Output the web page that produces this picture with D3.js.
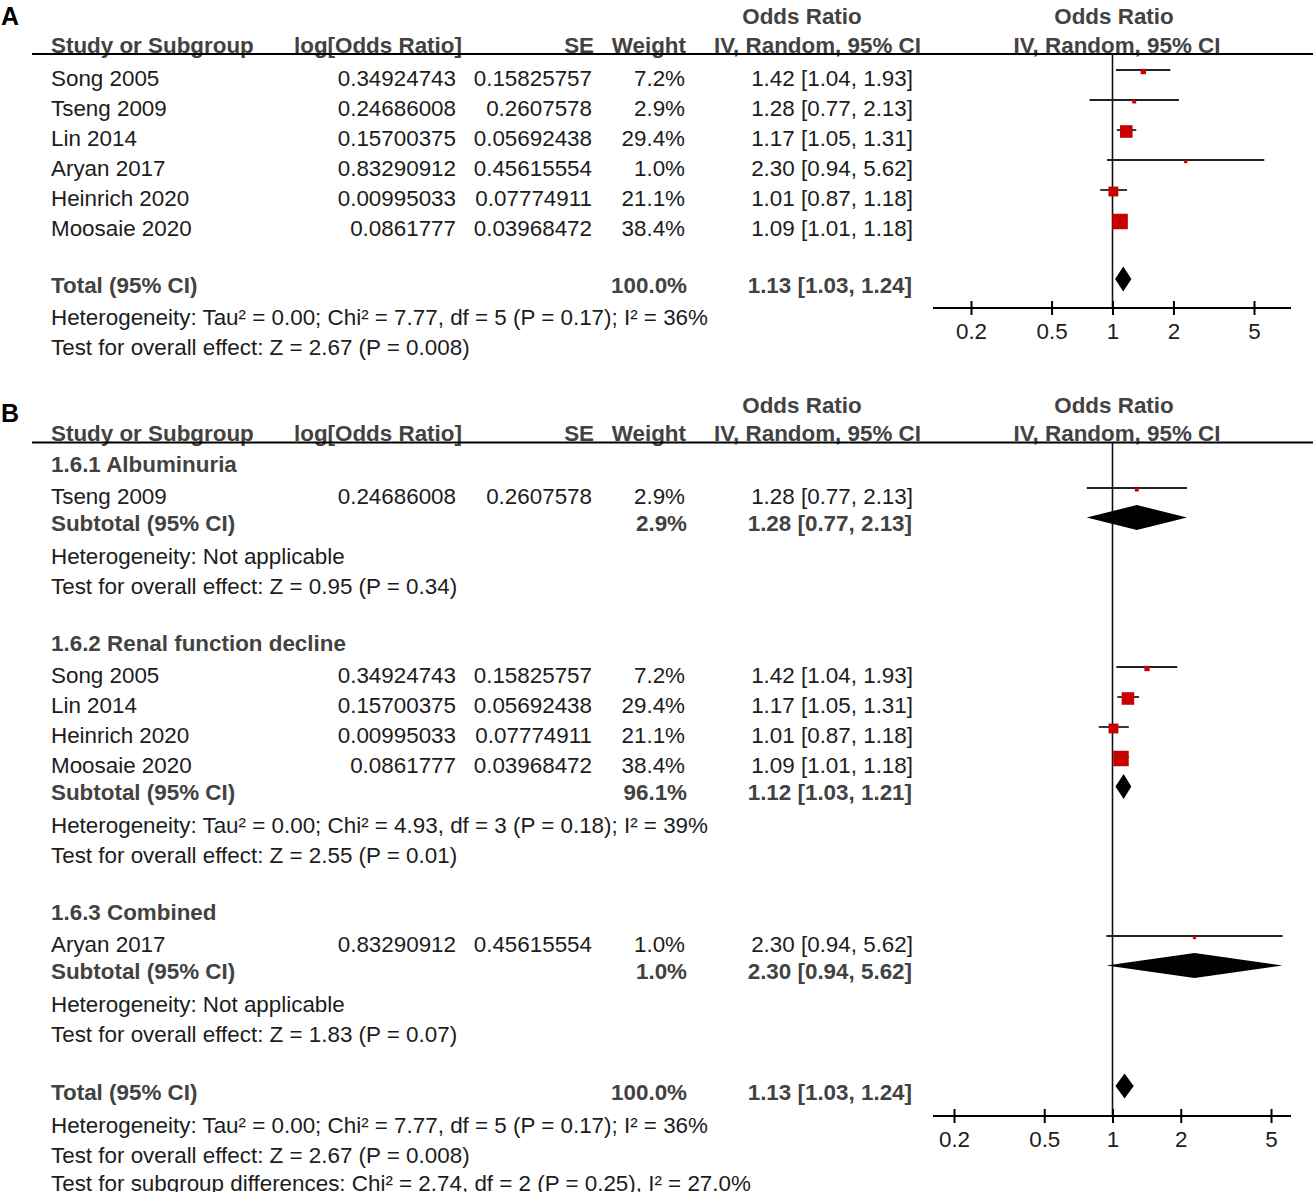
<!DOCTYPE html>
<html>
<head>
<meta charset="utf-8">
<script src="https://cdn.jsdelivr.net/npm/d3@7"></script>
<style>
  body { margin: 0; background: #fff; }
  text { font-family: "Liberation Sans", Arial, sans-serif; font-size: 22.4px; }
</style>
</head>
<body>
<svg width="1313" height="1192"></svg>
<script>
// study level data
const studies = ["Song 2005", "Tseng 2009", "Lin 2014", "Aryan 2017", "Heinrich 2020", "Moosaie 2020"];
const logOR = ["0.34924743", "0.24686008", "0.15700375", "0.83290912", "0.00995033", "0.0861777"];
const seVals = ["0.15825757", "0.2607578", "0.05692438", "0.45615554", "0.07774911", "0.03968472"];
const weights = [7.2, 2.9, 29.4, 1.0, 21.1, 38.4];
const ors = [1.42, 1.28, 1.17, 2.30, 1.01, 1.09];
const lowers = [1.04, 0.77, 1.05, 0.94, 0.87, 1.01];
const uppers = [1.93, 2.13, 1.31, 5.62, 1.18, 1.18];

// subgroups (panel B)
const subgroupNames = ["1.6.1 Albuminuria", "1.6.2 Renal function decline", "1.6.3 Combined"];
const subgroupMembers = [[1], [0, 2, 4, 5], [3]];
const subWeights = [2.9, 96.1, 1.0];
const subOrs = [1.28, 1.12, 2.30];
const subLowers = [0.77, 1.03, 0.94];
const subUppers = [2.13, 1.21, 5.62];
const subHet = [
  "Heterogeneity: Not applicable",
  "Heterogeneity: Tau² = 0.00; Chi² = 4.93, df = 3 (P = 0.18); I² = 39%",
  "Heterogeneity: Not applicable"
];
const subTest = [
  "Test for overall effect: Z = 0.95 (P = 0.34)",
  "Test for overall effect: Z = 2.55 (P = 0.01)",
  "Test for overall effect: Z = 1.83 (P = 0.07)"
];

// overall
const totalWeight = 100.0;
const totalOr = 1.13, totalLower = 1.03, totalUpper = 1.24;
const totalHet = "Heterogeneity: Tau² = 0.00; Chi² = 7.77, df = 5 (P = 0.17); I² = 36%";
const totalTest = "Test for overall effect: Z = 2.67 (P = 0.008)";
const subgroupDiff = "Test for subgroup differences: Chi² = 2.74, df = 2 (P = 0.25), I² = 27.0%";

const tickValues = [0.2, 0.5, 1, 2, 5];
const tickLabels = ["0.2", "0.5", "1", "2", "5"];
const headers = ["Study or Subgroup", "log[Odds Ratio]", "SE", "Weight", "IV, Random, 95% CI", "IV, Random, 95% CI"];

const TEXT = "#1c1c1c";
const BOLD = "#424242";
const RED = "#c80000";
const COL = { name: 51, logor: 456, se: 592, weight: 686, ci: 912 };
const PLOT = { left: 933, right: 1291 };

const svg = d3.select("svg");
const boxSize = d3.scaleLinear().domain([0, 40]).range([3, 16]);

function ciText(o, l, u) {
  return o.toFixed(2) + " [" + l.toFixed(2) + ", " + u.toFixed(2) + "]";
}

function txt(x, y, s, opt) {
  opt = opt || {};
  return svg.append("text")
    .attr("x", x)
    .attr("y", y + 7.5)
    .attr("text-anchor", opt.anchor || "start")
    .attr("font-weight", opt.bold ? "bold" : "normal")
    .attr("fill", opt.bold ? BOLD : TEXT)
    .text(s);
}

function diamond(x, y, o, l, u) {
  const h = 12.5;
  svg.append("path")
    .attr("d", "M" + x(l) + "," + y + "L" + x(o) + "," + (y - h) + "L" + x(u) + "," + y + "L" + x(o) + "," + (y + h) + "Z")
    .attr("fill", "#000");
}

function drawPanel(label, labelY, headerY, x, rows, axisY) {
  svg.append("text")
    .attr("x", 1).attr("y", labelY)
    .attr("font-weight", "bold").attr("fill", "#000")
    .style("font-size", "25px")
    .text(label);

  // header
  svg.append("text").attr("x", 802).attr("y", headerY - 28.5).attr("text-anchor", "middle")
    .attr("font-weight", "bold").attr("fill", BOLD).text("Odds Ratio");
  svg.append("text").attr("x", 1114).attr("y", headerY - 28.5).attr("text-anchor", "middle")
    .attr("font-weight", "bold").attr("fill", BOLD).text("Odds Ratio");
  const hx = [[COL.name, "start"], [294, "start"], [594, "end"], [COL.weight, "end"], [714, "start"], [1117, "middle"]];
  headers.forEach((h, i) => {
    svg.append("text").attr("x", hx[i][0]).attr("y", headerY).attr("text-anchor", hx[i][1])
      .attr("font-weight", "bold").attr("fill", BOLD).text(h);
  });
  svg.append("line")
    .attr("x1", 32).attr("x2", 1313)
    .attr("y1", headerY + 1.5).attr("y2", headerY + 1.5)
    .attr("stroke", "#000").attr("stroke-width", 2);

  // line of no effect
  svg.append("line")
    .attr("x1", x(1)).attr("x2", x(1))
    .attr("y1", headerY + 1.5).attr("y2", axisY)
    .attr("stroke", "#111").attr("stroke-width", 1.6);

  rows.forEach(r => {
    if (r.type === "study") {
      const i = r.i;
      txt(COL.name, r.y, studies[i]);
      txt(COL.logor, r.y, logOR[i], { anchor: "end" });
      txt(COL.se, r.y, seVals[i], { anchor: "end" });
      txt(COL.weight - 1, r.y, weights[i].toFixed(1) + "%", { anchor: "end" });
      txt(COL.ci + 1, r.y, ciText(ors[i], lowers[i], uppers[i]), { anchor: "end" });
      svg.append("line")
        .attr("x1", x(lowers[i])).attr("x2", x(uppers[i]))
        .attr("y1", r.y - 8).attr("y2", r.y - 8)
        .attr("stroke", "#222").attr("stroke-width", 1.8);
      const s = boxSize(weights[i]);
      svg.append("rect")
        .attr("x", x(ors[i]) - s / 2).attr("y", r.y - 6.5 - s / 2)
        .attr("width", s).attr("height", s)
        .attr("fill", RED);
    } else if (r.type === "group") {
      txt(COL.name, r.y, subgroupNames[r.k], { bold: true });
    } else if (r.type === "subtotal") {
      const k = r.k;
      txt(COL.name, r.y, "Subtotal (95% CI)", { bold: true });
      txt(COL.weight + 1, r.y, subWeights[k].toFixed(1) + "%", { anchor: "end", bold: true });
      txt(COL.ci, r.y, ciText(subOrs[k], subLowers[k], subUppers[k]), { anchor: "end", bold: true });
      diamond(x, r.y - 5.5, subOrs[k], subLowers[k], subUppers[k]);
    } else if (r.type === "total") {
      txt(COL.name, r.y, "Total (95% CI)", { bold: true });
      txt(COL.weight + 1, r.y, totalWeight.toFixed(1) + "%", { anchor: "end", bold: true });
      txt(COL.ci, r.y, ciText(totalOr, totalLower, totalUpper), { anchor: "end", bold: true });
      diamond(x, r.y - 6, totalOr, totalLower, totalUpper);
    } else {
      txt(COL.name, r.y, r.text);
    }
  });

  // axis
  const axis = d3.axisBottom(x)
    .tickValues(tickValues)
    .tickFormat((d, i) => tickLabels[i])
    .tickSize(0)
    .tickPadding(0);
  const ag = svg.append("g").attr("transform", "translate(0," + axisY + ")").call(axis);
  ag.select(".domain").remove();
  ag.selectAll(".tick line").attr("y1", -7).attr("y2", 7).attr("stroke", "#000").attr("stroke-width", 2);
  ag.selectAll(".tick text")
    .attr("y", 31).attr("dy", null)
    .attr("fill", TEXT)
    .style("font-size", "22.4px")
    .style("font-family", "'Liberation Sans', Arial, sans-serif");
  ag.append("line")
    .attr("x1", PLOT.left).attr("x2", PLOT.right)
    .attr("y1", 0).attr("y2", 0)
    .attr("stroke", "#000").attr("stroke-width", 2);
}

// Panel A
const xA = d3.scaleLog().domain([0.2, 5]).range([971, 1254]);
const rowsA = [];
studies.forEach((s, i) => rowsA.push({ type: "study", i: i, y: 78 + i * 30 }));
rowsA.push({ type: "total", y: 285 });
rowsA.push({ type: "text", text: totalHet, y: 317 });
rowsA.push({ type: "text", text: totalTest, y: 347 });
drawPanel("A", 25, 52.5, xA, rowsA, 308);

// Panel B
const xB = d3.scaleLog().domain([0.2, 5]).range([954, 1271]);
const rowsB = [];
let y = 464;
subgroupMembers.forEach((members, k) => {
  rowsB.push({ type: "group", k: k, y: y });
  y += 32;
  members.forEach((i, j) => {
    rowsB.push({ type: "study", i: i, y: y });
    y += j < members.length - 1 ? 30 : 27;
  });
  rowsB.push({ type: "subtotal", k: k, y: y });
  y += 33;
  rowsB.push({ type: "text", text: subHet[k], y: y });
  y += 30;
  rowsB.push({ type: "text", text: subTest[k], y: y });
  y += 57;
});
rowsB.push({ type: "total", y: 1092 });
rowsB.push({ type: "text", text: totalHet, y: 1125 });
rowsB.push({ type: "text", text: totalTest, y: 1155 });
rowsB.push({ type: "text", text: subgroupDiff, y: 1183 });
drawPanel("B", 422, 441, xB, rowsB, 1116);
</script>
</body>
</html>
